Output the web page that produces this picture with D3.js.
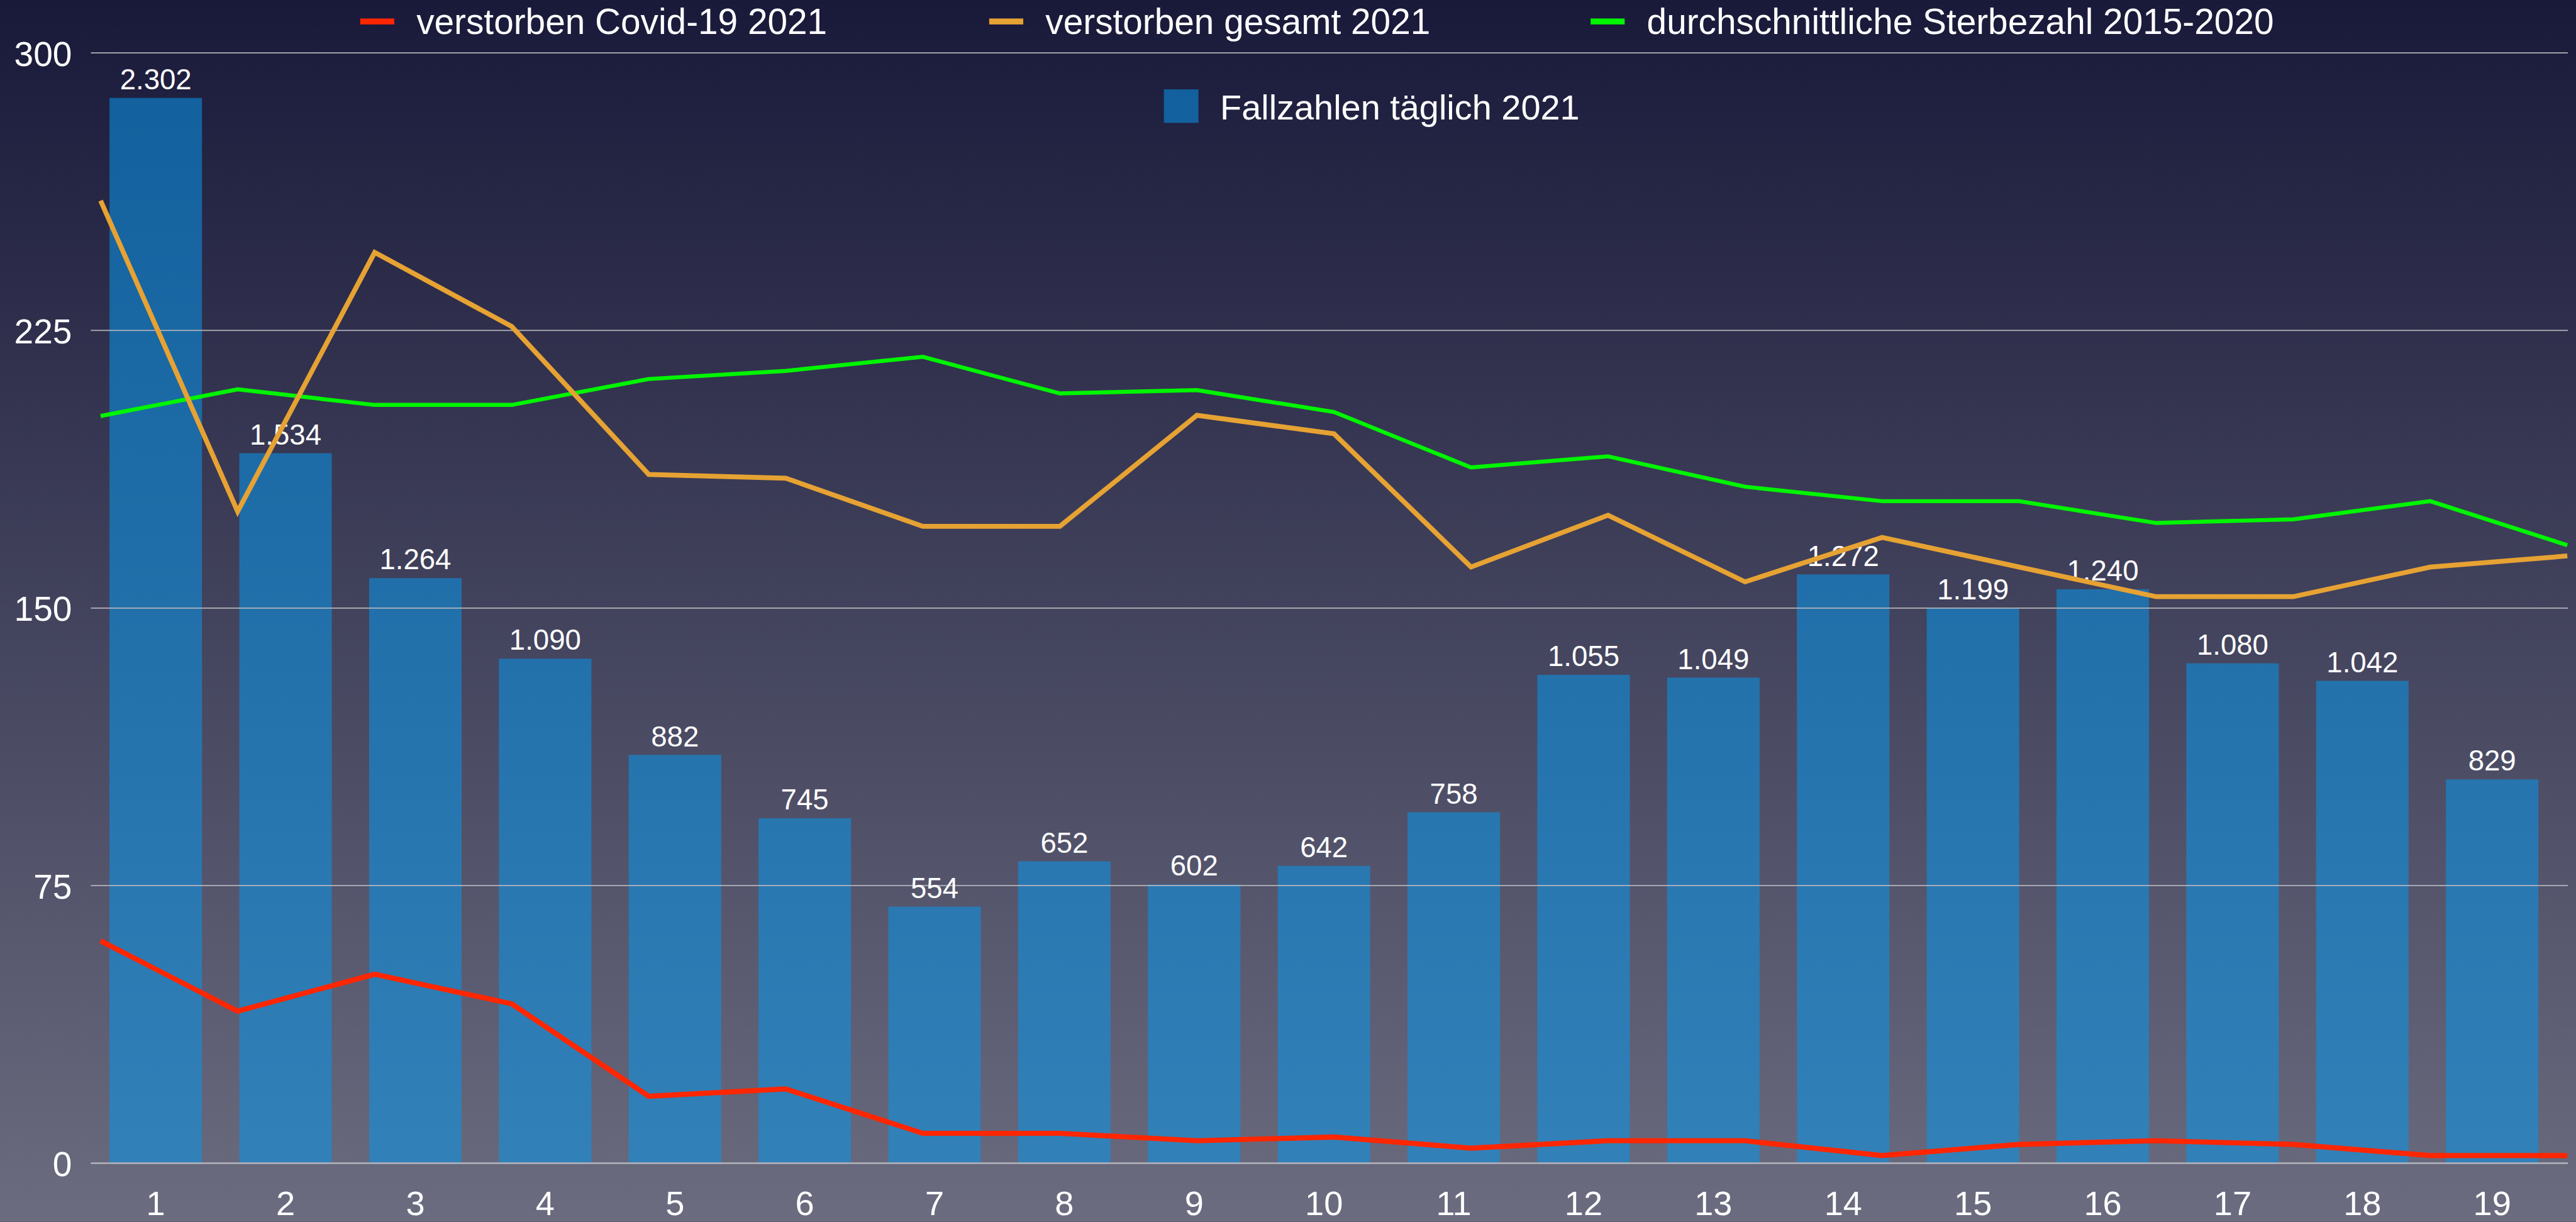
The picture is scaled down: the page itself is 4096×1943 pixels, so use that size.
<!DOCTYPE html>
<html>
<head>
<meta charset="utf-8">
<script src="https://cdn.jsdelivr.net/npm/d3@7"></script>
<style>
  html, body { margin: 0; padding: 0; background: #1a1a3a; overflow: hidden; }
  svg { display: block; }
</style>
</head>
<body>
<div id="chart"></div>
<script>
"use strict"

/* days (January 2021) */
let days = [1, 2, 3, 4, 5, 6, 7, 8, 9, 10, 11, 12, 13, 14, 15, 16, 17, 18, 19];

/* line series, left axis */
let covidDeaths = [60, 41, 51, 43, 18, 20, 8, 8, 6, 7, 4, 6, 6, 2, 5, 6, 5, 2, 2];
let totalDeaths = [260, 176, 246, 226, 186, 185, 172, 172, 202, 197, 161, 175, 157, 169, 161, 153, 153, 161, 164];
let avgDeaths = [201.8, 209, 204.8, 204.8, 211.8, 214, 217.8, 207.9, 208.8, 202.9, 187.9, 190.9, 182.7, 178.8, 178.8, 172.9, 173.9, 178.8, 166.9];

/* bar series, hidden second axis */
let dailyCases = [2302, 1534, 1264, 1090, 882, 745, 554, 652, 602, 642, 758, 1055, 1049, 1272, 1199, 1240, 1080, 1042, 829];

let yTicks = [0, 75, 150, 225, 300];
let lineNames = ["verstorben Covid-19 2021", "verstorben gesamt 2021", "durchschnittliche Sterbezahl 2015-2020"];
let lineColors = ["#ff2600", "#e6a233", "#00f500"];
let lineWidths = [9.5, 9, 7.5];
let barName = "Fallzahlen täglich 2021";

/* drawing is done in the reference's own pixel space, then scaled to the window */
let W = 4763, H = 2259;
let font = "'Liberation Sans', Arial, Helvetica, sans-serif";

let drawing = d3.select("#chart")
    .append("svg")
    .attr("width", 4096)
    .attr("height", 1943)
    .attr("viewBox", "0 0 " + W + " " + H)
    .style("font-family", font);

/* background gradient */
let defs = drawing.append("defs");
let bg = defs.append("linearGradient")
    .attr("id", "bg")
    .attr("x1", 0).attr("y1", 0).attr("x2", 0).attr("y2", 1);
bg.append("stop").attr("offset", "0%").attr("stop-color", "#19193a");
bg.append("stop").attr("offset", "100%").attr("stop-color", "#6b6c7f");

drawing.append("rect")
    .attr("width", W)
    .attr("height", H)
    .attr("fill", "url(#bg)");

/* scales */
let y = d3.scaleLinear().domain([0, 300]).range([2150, 97]);
let yCases = d3.scaleLinear().domain([0, 2400]).range([2150, 97]);
let xBar = d3.scaleBand().domain(days).range([168, 4728]).paddingInner(0.2875).paddingOuter(0.14375);
let xLine = d3.scalePoint().domain(days).range([186, 4747]);

let fmt = d3.formatLocale({ decimal: ",", thousands: ".", grouping: [3], currency: ["", " €"] }).format(",d");
let cases = days.map((d, i) => ({ day: d, value: dailyCases[i] }));

/* bars */
let barFill = "rgb(9,148,232)";
drawing.append("g")
  .selectAll("rect")
  .data(cases)
  .join("rect")
    .attr("x", d => xBar(d.day))
    .attr("y", d => yCases(d.value))
    .attr("width", xBar.bandwidth())
    .attr("height", d => yCases(0) - yCases(d.value))
    .attr("fill", barFill)
    .attr("fill-opacity", 0.56);

/* grid lines */
let yAxis = drawing.append("g")
    .attr("transform", "translate(168,0)")
    .call(d3.axisLeft(y).tickValues(yTicks).tickSize(-4580).tickPadding(35));
yAxis.select(".domain").remove();
yAxis.selectAll(".tick line")
    .attr("stroke", "#b4b4bc")
    .attr("stroke-width", d => d === 0 ? 3 : 2);
yAxis.selectAll(".tick text")
    .attr("fill", "white")
    .attr("font-size", 64)
    .attr("font-family", font)
    .attr("dy", null)
    .attr("y", 24);

/* x axis labels */
let xAxis = drawing.append("g")
    .attr("transform", "translate(0,2150)")
    .call(d3.axisBottom(xBar).tickSize(0).tickPadding(0));
xAxis.select(".domain").remove();
xAxis.selectAll(".tick text")
    .attr("fill", "white")
    .attr("font-size", 63)
    .attr("font-family", font)
    .attr("dy", null)
    .attr("y", 97);

/* bar value labels */
drawing.append("g")
  .selectAll("text")
  .data(cases)
  .join("text")
    .attr("x", d => xBar(d.day) + xBar.bandwidth() / 2)
    .attr("y", d => yCases(d.value) - 16)
    .attr("text-anchor", "middle")
    .attr("fill", "white")
    .attr("font-size", 53)
    .text(d => fmt(d.value));

/* lines */
let series = [covidDeaths, totalDeaths, avgDeaths];
let line = d3.line()
    .x((d, i) => xLine(days[i]))
    .y(d => y(d));

[2, 1, 0].forEach(k => {
  drawing.append("path")
    .datum(series[k])
    .attr("d", line)
    .attr("fill", "none")
    .attr("stroke", lineColors[k])
    .attr("stroke-width", lineWidths[k])
    .attr("stroke-linejoin", "miter");
});

/* legend, row 1: line series */
let legend = drawing.append("g");
let swatchX = [666, 1829, 2941];
lineNames.forEach((name, k) => {
  legend.append("rect")
    .attr("x", swatchX[k])
    .attr("y", 34)
    .attr("width", 63)
    .attr("height", 11)
    .attr("fill", lineColors[k]);
  legend.append("text")
    .attr("x", swatchX[k] + 104)
    .attr("y", 63)
    .attr("fill", "white")
    .attr("font-size", 66)
    .text(name);
});

/* legend, row 2: bars */
legend.append("rect")
    .attr("x", 2152)
    .attr("y", 165)
    .attr("width", 64)
    .attr("height", 62)
    .attr("fill", barFill)
    .attr("fill-opacity", 0.56);
legend.append("text")
    .attr("x", 2256)
    .attr("y", 221)
    .attr("fill", "white")
    .attr("font-size", 65)
    .text(barName);
</script>
</body>
</html>
